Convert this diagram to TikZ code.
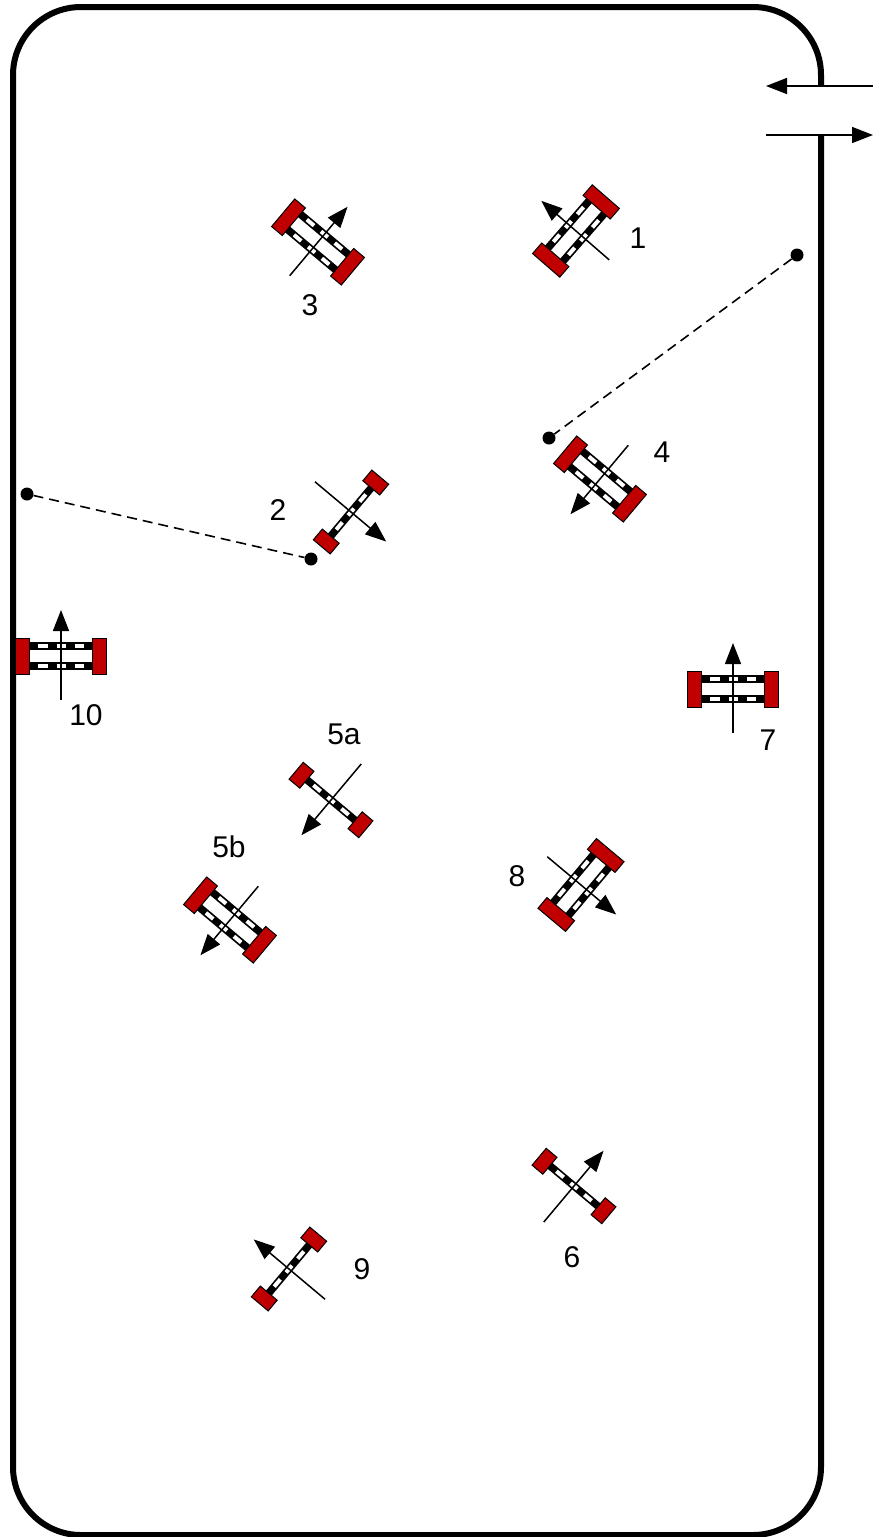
\documentclass[tikz,border=0pt]{standalone}
\usepackage{fontspec}
\setmainfont{Liberation Sans}
\usetikzlibrary{arrows.meta}
\definecolor{wheelred}{RGB}{192,0,0}
\tikzset{
  wheel/.style={draw=black,fill=wheelred,line width=1pt},
  rail/.style={draw=black,line width=7.5pt},
  railmark/.style={draw=white,line width=4pt},
  heading/.style={-{Triangle[length=21pt,width=16pt]},line width=1.5pt},
  tag/.style={font=\fontsize{30}{30}\selectfont,inner sep=0pt},
  spot/.style={circle,fill=black,inner sep=0pt,minimum size=13pt},
  link/.style={line width=1.6pt,dash pattern=on 10pt off 6pt},
  wideunit/.pic={
    % rails
    \foreach \y in {-10,10} {
      \draw[rail] (-32,\y) -- (32,\y);
      \draw[railmark] (-23,\y) -- (-13.5,\y);
      \draw[railmark] (-4.5,\y) -- (4.5,\y);
      \draw[railmark] (13.5,\y) -- (23,\y);
    }
    % wheels
    \draw[wheel] (-45.5,-18) rectangle (-31.5,18);
    \draw[wheel] (31.5,-18) rectangle (45.5,18);
    % heading
    \draw[heading] (0,44) -- (0,-46);
  },
  thinunit/.pic={
    % rail
    \draw[rail] (-32,0) -- (32,0);
    \draw[railmark] (-23,0) -- (-13.5,0);
    \draw[railmark] (-4.5,0) -- (4.5,0);
    \draw[railmark] (13.5,0) -- (23,0);
    % wheels
    \draw[wheel] (-45.5,-11) rectangle (-31.5,11);
    \draw[wheel] (31.5,-11) rectangle (45.5,11);
    % heading
    \draw[heading] (0,47) -- (0,-46);
  }
}
\begin{document}
\begin{tikzpicture}[x=1pt,y=-1pt]
  \useasboundingbox (0,0) rectangle (882,1537);
  % wall with its opening
  \draw[line width=6pt] (821,86) -- (821,75) arc (0:90:68 and -68) -- (81,7)
    arc (90:180:68 and -68) -- (13,1467) arc (180:270:68 and -68) -- (753,1535)
    arc (270:360:68 and -68) -- (821,134);
  % opening arrows
  \coordinate (inA) at (873,86);
  \coordinate (inB) at (766,86);
  \coordinate (outA) at (766,135);
  \coordinate (outB) at (873,135);
  \draw[heading] (inA) -- (inB);
  \draw[heading] (outA) -- (outB);
  % spots and dashed links
  \node[spot] (spotA) at (797,255) {};
  \node[spot] (spotB) at (549,438) {};
  \node[spot] (spotC) at (27,494) {};
  \node[spot] (spotD) at (311,559) {};
  \draw[link] (spotA) -- (spotB);
  \draw[link] (spotC) -- (spotD);
  % units
  \pic[rotate=49] at (576,231) {wideunit};
  \pic[rotate=-130] at (351,512) {thinunit};
  \pic[rotate=-40] at (318,242) {wideunit};
  \pic[rotate=140] at (600,479) {wideunit};
  \pic[rotate=140] at (331,800) {thinunit};
  \pic[rotate=140] at (230,920) {wideunit};
  \pic[rotate=-40] at (574,1186) {thinunit};
  \pic at (733,689) {wideunit};
  \pic[rotate=-130] at (581,885) {wideunit};
  \pic[rotate=50] at (289,1269) {thinunit};
  \pic at (61,656) {wideunit};
  % labels
  \node[tag] (t1) at (638,238) {1};
  \node[tag] (t2) at (278,510) {2};
  \node[tag] (t3) at (310,305) {3};
  \node[tag] (t4) at (662,452) {4};
  \node[tag] (t5a) at (344,734) {5a};
  \node[tag] (t5b) at (229,847) {5b};
  \node[tag] (t6) at (572,1257) {6};
  \node[tag] (t7) at (768,740) {7};
  \node[tag] (t8) at (517,876) {8};
  \node[tag] (t9) at (362,1269) {9};
  \node[tag] (t10) at (86,715) {10};
\end{tikzpicture}
\end{document}
